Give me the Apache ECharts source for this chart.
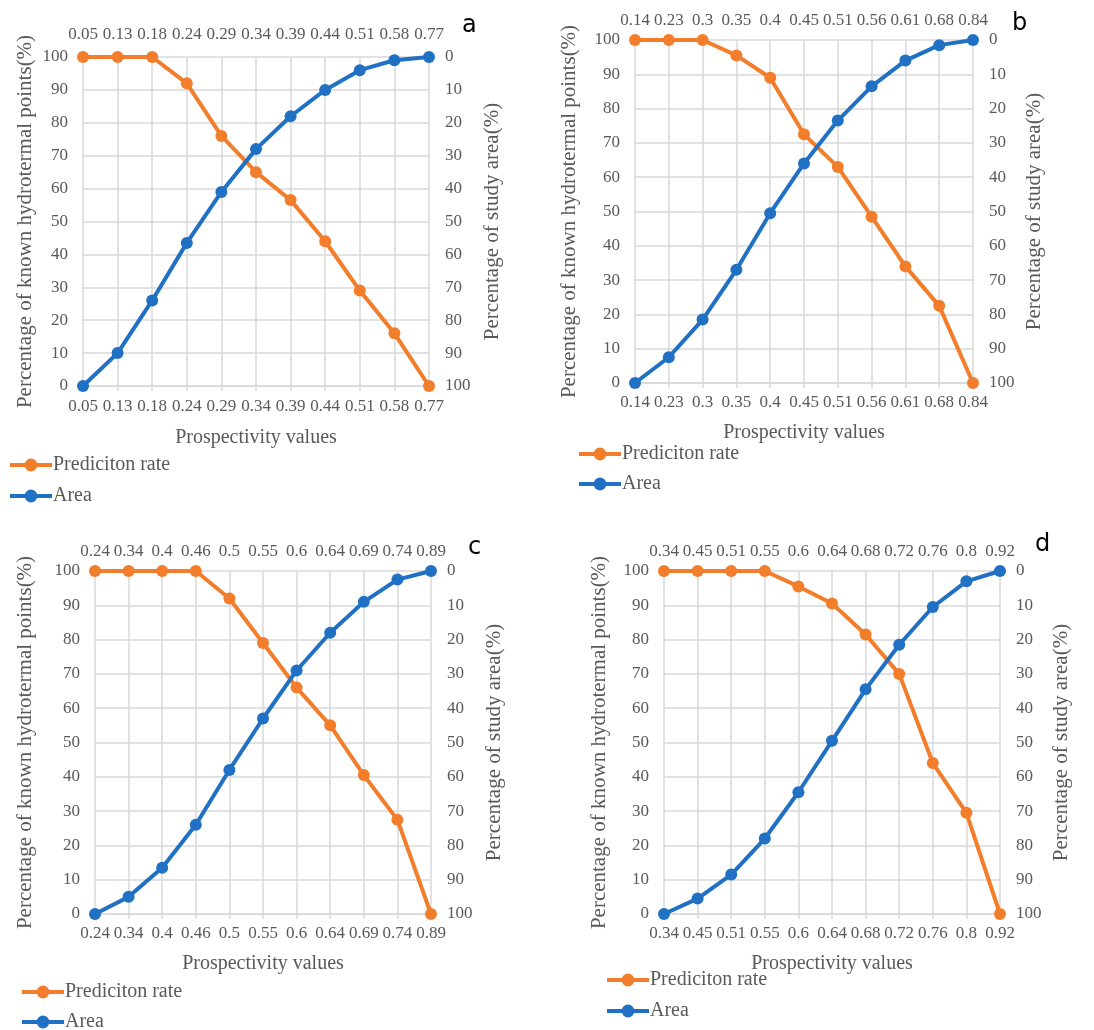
<!DOCTYPE html>
<html><head><meta charset="utf-8">
<script src="https://cdn.jsdelivr.net/npm/echarts@6/dist/echarts.min.js"></script>
<style>html,body{margin:0;padding:0;background:#fff}#c{width:1094px;height:1030px}</style>
</head><body><div id="c"></div>
<script>
// Panel a
const catsA = ['0.05','0.13','0.18','0.24','0.29','0.34','0.39','0.44','0.51','0.58','0.77'];
const predA = [100,100,100,92,76,65,56.5,44,29,16,0];
const areaA = [0,10,26,43.5,59,72,82,90,96,99,100];
// Panel b
const catsB = ['0.14','0.23','0.3','0.35','0.4','0.45','0.51','0.56','0.61','0.68','0.84'];
const predB = [100,100,100,95.5,89,72.5,63,48.5,34,22.5,0];
const areaB = [0,7.5,18.5,33,49.5,64,76.5,86.5,94,98.5,100];
// Panel c
const catsC = ['0.24','0.34','0.4','0.46','0.5','0.55','0.6','0.64','0.69','0.74','0.89'];
const predC = [100,100,100,100,92,79,66,55,40.5,27.5,0];
const areaC = [0,5,13.5,26,42,57,71,82,91,97.5,100];
// Panel d
const catsD = ['0.34','0.45','0.51','0.55','0.6','0.64','0.68','0.72','0.76','0.8','0.92'];
const predD = [100,100,100,100,95.5,90.5,81.5,70,44,29.5,0];
const areaD = [0,4.5,11.5,22,35.5,50.5,65.5,78.5,89.5,97,100];

const panelLetters = ['a','b','c','d'];
const xTitle = 'Prospectivity values';
const yLeftTitle = 'Percentage of known hydrotermal points(%)';
const yRightTitle = 'Percentage of study area(%)';
const predName = 'Prediciton rate';
const areaName = 'Area';

const ORANGE = '#F27D2B', BLUE = '#2070C4', TXT = '#595959', GRID = '#D9D9D9';
const FONT = 'Liberation Serif';

const panels = [
  {cats:catsA, pred:predA, area:areaA, grid:{left:83, top:57, width:346, height:329}, lg:47, rg:53, xg:42, tm:14, bm:12.5, legend:{left:8, tops:[455,486]}, letter:[462,14]},
  {cats:catsB, pred:predB, area:areaB, grid:{left:635, top:40, width:338, height:343}, lg:55, rg:51, xg:40, tm:10.5, bm:11.5, legend:{left:577, tops:[444,474]}, letter:[1012,12]},
  {cats:catsC, pred:predC, area:areaC, grid:{left:95, top:571, width:336, height:343}, lg:59, rg:53, xg:40, tm:11, bm:11.5, legend:{left:20, tops:[982,1012]}, letter:[468,536]},
  {cats:catsD, pred:predD, area:areaD, grid:{left:664, top:571, width:336, height:343}, lg:54, rg:51, xg:40, tm:11, bm:11.5, legend:{left:605, tops:[970,1001]}, letter:[1035,533]}
];

const option = {
  animation:false,
  backgroundColor:'#fff',
  grid:[], xAxis:[], yAxis:[], series:[], legend:[], graphic:[]
};
const lbl = {color:TXT, fontFamily:FONT, fontSize:17};
const nameStyle = {color:TXT, fontFamily:FONT, fontSize:21};
panels.forEach((p,i)=>{
  option.grid.push(Object.assign({}, p.grid));
  option.xAxis.push({type:'category', gridIndex:i, data:p.cats, boundaryGap:false, position:'bottom',
    axisLine:{show:true, lineStyle:{color:GRID, width:1.5}}, axisTick:{show:true, lineStyle:{color:GRID, width:1.5}, length:5},
    axisLabel:Object.assign({margin:p.bm, interval:0}, lbl),
    splitLine:{show:true, lineStyle:{color:GRID, width:1.5}},
    name:xTitle, nameLocation:'middle', nameGap:p.xg, nameTextStyle:Object.assign({}, nameStyle, {fontSize:20})});
  option.xAxis.push({type:'category', gridIndex:i, data:p.cats, boundaryGap:false, position:'top',
    axisLine:{show:false}, axisTick:{show:false}, axisLabel:Object.assign({margin:p.tm, interval:0}, lbl), splitLine:{show:false}});
  option.yAxis.push({type:'value', gridIndex:i, min:0, max:100, interval:10, position:'left',
    axisLine:{show:false}, axisTick:{show:false}, axisLabel:Object.assign({margin:15}, lbl),
    splitLine:{show:true, lineStyle:{color:GRID, width:1.5}},
    name:yLeftTitle, nameLocation:'middle', nameGap:p.lg, nameRotate:90, nameTextStyle:nameStyle});
  option.yAxis.push({type:'value', gridIndex:i, min:0, max:100, interval:10, position:'right', inverse:true,
    axisLine:{show:false}, axisTick:{show:false}, axisLabel:Object.assign({margin:16}, lbl), splitLine:{show:false},
    name:yRightTitle, nameLocation:'middle', nameGap:p.rg, nameRotate:90, nameTextStyle:nameStyle});
  option.series.push({name:predName, type:'line', xAxisIndex:2*i, yAxisIndex:2*i, data:p.pred,
    symbol:'circle', symbolSize:12, lineStyle:{color:ORANGE, width:4}, itemStyle:{color:ORANGE}, z:3});
  option.series.push({name:areaName, type:'line', xAxisIndex:2*i, yAxisIndex:2*i, data:p.area,
    symbol:'circle', symbolSize:12, lineStyle:{color:BLUE, width:4}, itemStyle:{color:BLUE}, z:4});
  [predName, areaName].forEach((nm,k)=>{
    option.legend.push({data:[nm], orient:'vertical', left:p.legend.left, top:p.legend.tops[k],
      itemWidth:42, itemHeight:16, selectedMode:false, padding:0,
      lineStyle:{width:4},
      textStyle:{color:TXT, fontFamily:FONT, fontSize:20, padding:[0,0,0,-4]}});
  });
  option.graphic.push({type:'text', left:p.letter[0], top:p.letter[1],
    style:{text:panelLetters[i], font:'24px "DejaVu Sans"', fill:'#000'}});
});
echarts.init(document.getElementById('c'), null, {renderer:'canvas'}).setOption(option);
</script></body></html>
